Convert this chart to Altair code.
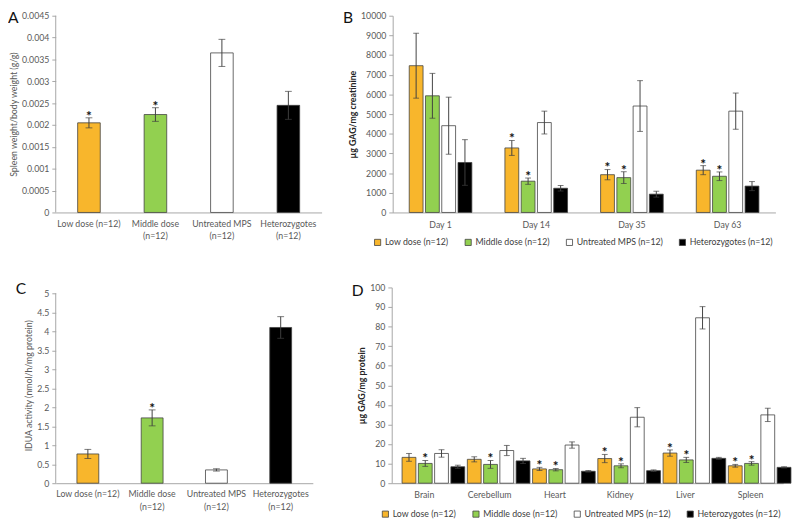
import altair as alt
import pandas as pd

FONT = "Lato"
groups = ["Low dose (n=12)", "Middle dose (n=12)", "Untreated MPS (n=12)", "Heterozygotes (n=12)"]
colors = ["#F8B62C", "#92D050", "#FFFFFF", "#000000"]

# Panel A: spleen weight / body weight
a_values = [0.00205, 0.00224, 0.00365, 0.00245]
a_errors = [0.000115, 0.000156, 0.00031, 0.00032]
a_stars = [True, True, False, False]
a_ticks = [0, 0.0005, 0.001, 0.0015, 0.002, 0.0025, 0.003, 0.0035, 0.004, 0.0045]

# Panel B: urinary GAG by day
b_days = ["Day 1", "Day 14", "Day 35", "Day 63"]
b_low = [7460, 3280, 1920, 2150]
b_low_err = [1650, 380, 260, 230]
b_mid = [5930, 1590, 1770, 1840]
b_mid_err = [1140, 160, 300, 220]
b_untr = [4410, 4570, 5410, 5150]
b_untr_err = [1450, 580, 1290, 920]
b_het = [2540, 1230, 930, 1340]
b_het_err = [1160, 140, 150, 230]
b_star_low = [False, True, True, True]
b_star_mid = [False, True, True, True]
b_ticks = [0, 1000, 2000, 3000, 4000, 5000, 6000, 7000, 8000, 9000, 10000]

# Panel C: IDUA activity
c_values = [0.77, 1.72, 0.35, 4.10]
c_errors = [0.12, 0.21, 0.03, 0.285]
c_stars = [False, True, False, False]
c_ticks = [0, 0.5, 1, 1.5, 2, 2.5, 3, 3.5, 4, 4.5, 5]

# Panel D: tissue GAG
d_tissues = ["Brain", "Cerebellum", "Heart", "Kidney", "Liver", "Spleen"]
d_low = [13.2, 12.2, 7.3, 12.6, 15.4, 8.9]
d_low_err = [2.0, 1.3, 0.8, 2.1, 1.6, 0.7]
d_mid = [10.1, 9.6, 6.9, 8.9, 11.9, 10.1]
d_mid_err = [1.5, 2.0, 0.6, 1.0, 1.3, 0.9]
d_untr = [15.2, 16.7, 19.5, 33.7, 84.5, 34.9]
d_untr_err = [1.9, 2.6, 1.6, 4.9, 5.7, 3.4]
d_het = [8.4, 11.4, 6.1, 6.4, 12.7, 8.1]
d_het_err = [0.8, 1.3, 0.4, 0.4, 0.5, 0.3]
d_star_low = [False, False, True, True, True, True]
d_star_mid = [True, True, True, True, True, True]
d_ticks = [0, 10, 20, 30, 40, 50, 60, 70, 80, 90, 100]

AXIS_GRAY = "#A6A6A6"
LABEL_GRAY = "#595959"
ERR = "#404040"


def simple_df(values, errors, stars):
    return pd.DataFrame({
        "group": groups, "value": values,
        "lo": [v - e for v, e in zip(values, errors)],
        "hi": [v + e for v, e in zip(values, errors)],
        "star": stars,
    })


def grouped_df(cats, series, errs, stars):
    rows = []
    for gi, g in enumerate(groups):
        for ci, c in enumerate(cats):
            v = series[gi][ci]
            e = errs[gi][ci]
            rows.append({"cat": c, "group": g, "value": v, "lo": v - e, "hi": v + e,
                         "star": stars[gi][ci]})
    return pd.DataFrame(rows)


def y_axis(ticks, title, tcolor, tweight, domain=True):
    return alt.Axis(values=ticks, labelExpr="toString(datum.value)", labelOverlap=False,
                    tickSize=4, tickColor=AXIS_GRAY, domain=domain, minExtent=0,
                    domainColor=AXIS_GRAY, labelColor=LABEL_GRAY, labelFontSize=9,
                    labelPadding=3, grid=False, title=title, titleColor=tcolor,
                    titleFontWeight=tweight, titleFontSize=9, titlePadding=3)


def letter_layer(letter, dx, dy):
    return alt.Chart(pd.DataFrame({"t": [letter]})).mark_text(
        align="left", baseline="top", fontSize=16, color="#111111"
    ).encode(text="t:N", x=alt.value(dx), y=alt.value(dy))


def simple_panel(df, width, height, ymax, axis_top, ticks, title, letter, ldx, ldy):
    xs = alt.X("group:N", sort=groups,
               scale=alt.Scale(paddingInner=0.66, paddingOuter=0.33),
               axis=alt.Axis(title=None, labelAngle=0, ticks=False, domainColor=AXIS_GRAY,
                             labelColor=LABEL_GRAY, labelFontSize=9, labelPadding=7,
                             labelLineHeight=13,
                             labelExpr="length(datum.label) > 16 ? [replace(datum.label, ' (n=12)', ''), '(n=12)'] : datum.label"))
    yax = y_axis(ticks, title, LABEL_GRAY, "normal", domain=False)
    ysc = alt.Scale(domain=[0, ymax], nice=False)
    base = alt.Chart(df)
    bars = base.mark_bar(stroke="#404040", strokeWidth=0.8).encode(
        x=xs,
        y=alt.Y("value:Q", scale=ysc, axis=yax),
        color=alt.Color("group:N", scale=alt.Scale(domain=groups, range=colors), legend=None),
    )
    rule = base.mark_rule(color=ERR, strokeWidth=1).encode(
        x=xs, y=alt.Y("lo:Q", scale=ysc, axis=yax), y2="hi:Q")
    cap_hi = base.mark_tick(orient="horizontal", size=7, thickness=1, color=ERR).encode(
        x=xs, y=alt.Y("hi:Q", scale=ysc, axis=yax))
    cap_lo = base.mark_tick(orient="horizontal", size=7, thickness=1, color=ERR).encode(
        x=xs, y=alt.Y("lo:Q", scale=ysc, axis=yax))
    stars = base.transform_filter("datum.star").mark_text(
        text="*", fontSize=14, fontWeight="bold", baseline="alphabetic", dy=3, color="#111111"
    ).encode(x=xs, y=alt.Y("hi:Q", scale=ysc, axis=yax))
    # y axis line drawn from 0 to the top tick value
    yline = alt.Chart(pd.DataFrame({"y0": [0], "y1": [axis_top]})).mark_rule(
        color=AXIS_GRAY, strokeWidth=1
    ).encode(x=alt.value(0), y=alt.Y("y0:Q", scale=ysc, axis=yax), y2="y1:Q")
    return alt.layer(bars, rule, cap_lo, cap_hi, stars, yline,
                     letter_layer(letter, ldx, ldy)).properties(width=width, height=height)


def grouped_panel(df, cats, width, height, ymax, ticks, title, letter, ldx, ldy,
                  pin, opin, lx, ly):
    xs = alt.X("cat:N", sort=cats,
               scale=alt.Scale(paddingInner=pin, paddingOuter=pin / 2),
               axis=alt.Axis(title=None, labelAngle=0, ticks=False, domainColor=AXIS_GRAY,
                             labelColor=LABEL_GRAY, labelFontSize=9, labelPadding=8))
    xo = alt.XOffset("group:N", sort=groups, scale=alt.Scale(paddingInner=opin, paddingOuter=opin / 2))
    yax = y_axis(ticks, title, "#262626", "bold")
    ysc = alt.Scale(domain=[0, ymax], nice=False)
    base = alt.Chart(df)
    bars = base.mark_bar(stroke="#404040", strokeWidth=0.8).encode(
        x=xs, xOffset=xo,
        y=alt.Y("value:Q", scale=ysc, axis=yax),
        color=alt.Color("group:N", scale=alt.Scale(domain=groups, range=colors),
                        legend=alt.Legend(title=None, orient="none", direction="horizontal",
                                          legendX=lx, legendY=ly, symbolType="square",
                                          symbolSize=40, symbolStrokeColor="#404040",
                                          symbolStrokeWidth=0.8, labelFontSize=9,
                                          labelColor="#404040", columnPadding=14,
                                          labelOffset=3, padding=0)),
    )
    rule = base.mark_rule(color=ERR, strokeWidth=1).encode(
        x=xs, xOffset=xo, y=alt.Y("lo:Q", scale=ysc, axis=yax), y2="hi:Q")
    cap_hi = base.mark_tick(orient="horizontal", size=6, thickness=1, color=ERR).encode(
        x=xs, xOffset=xo, y=alt.Y("hi:Q", scale=ysc, axis=yax))
    cap_lo = base.mark_tick(orient="horizontal", size=6, thickness=1, color=ERR).encode(
        x=xs, xOffset=xo, y=alt.Y("lo:Q", scale=ysc, axis=yax))
    stars = base.transform_filter("datum.star").mark_text(
        text="*", fontSize=14, fontWeight="bold", baseline="alphabetic", dy=3, color="#111111"
    ).encode(x=xs, xOffset=xo, y=alt.Y("hi:Q", scale=ysc, axis=yax))
    return alt.layer(bars, rule, cap_lo, cap_hi, stars, letter_layer(letter, ldx, ldy)).properties(
        width=width, height=height)


dfA = simple_df(a_values, a_errors, a_stars)
dfC = simple_df(c_values, c_errors, c_stars)
dfB = grouped_df(b_days, [b_low, b_mid, b_untr, b_het],
                 [b_low_err, b_mid_err, b_untr_err, b_het_err],
                 [b_star_low, b_star_mid, [False] * 4, [False] * 4])
dfD = grouped_df(d_tissues, [d_low, d_mid, d_untr, d_het],
                 [d_low_err, d_mid_err, d_untr_err, d_het_err],
                 [d_star_low, d_star_mid, [False] * 6, [False] * 6])

pA = simple_panel(dfA, 273, 202, 0.0045, 0.0045, a_ticks, "Spleen weight/body weight (g/g)", "A", -49, -6)
pB = grouped_panel(dfB, b_days, 393, 202, 10000, b_ticks, "µg GAG/mg creatinine", "B", -51, -6,
                   0.32, 0.15, -20, 228)
pC = simple_panel(dfC, 264, 201, 5 * 201 / 195, 5, c_ticks, "IDUA activity (nmol/h/mg protein)", "C", -41, -6)
pD = grouped_panel(dfD, d_tissues, 402, 201, 100, d_ticks, "µg GAG/mg protein", "D", -41, -4,
                   0.28, 0.06, -11, 228)

row1 = alt.hconcat(pA, pB, spacing=73, bounds="flush").resolve_scale(color="independent")
row2 = alt.hconcat(pC, pD, spacing=81, bounds="flush").resolve_scale(color="independent")
chart = alt.vconcat(row1, row2, spacing=35,
                    padding={"left": 0, "top": -5, "right": 0, "bottom": 0}).resolve_scale(
    color="independent"
).configure(font=FONT).configure_view(stroke=None)

chart.save("out.html", embed_options={"renderer": "svg", "actions": False})
